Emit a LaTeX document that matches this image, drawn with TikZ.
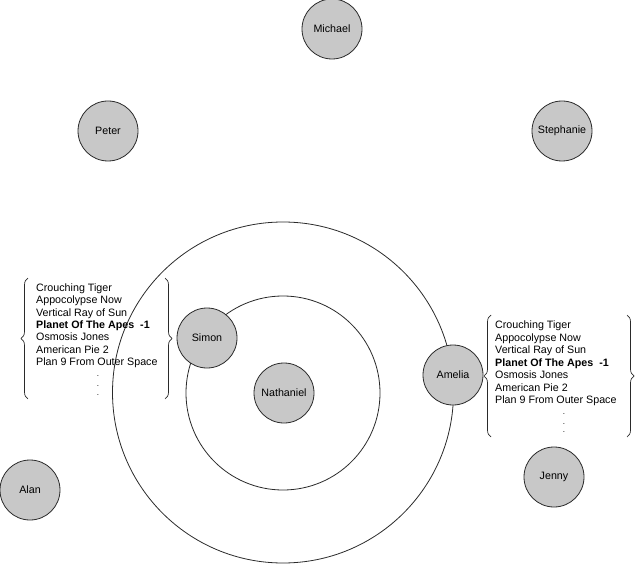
\documentclass[tikz,border=0pt]{standalone}
\usepackage{fontspec}
\setmainfont{Liberation Sans}
\usetikzlibrary{decorations.pathreplacing}
\definecolor{pfill}{HTML}{C8C8C8}
\definecolor{pline}{HTML}{2A2A2A}
\begin{document}
\begin{tikzpicture}[x=1pt,y=-1pt,
  person/.style={circle,draw=pline,fill=pfill,line width=0.8pt,minimum size=60pt,inner sep=0pt,font=\fontsize{10.7}{12}\selectfont},
  ring/.style={circle,draw=pline,line width=0.8pt,inner sep=0pt},
  lst/.style={inner sep=0pt,anchor=base west,font=\fontsize{10.7}{12}\selectfont},
  dotn/.style={inner sep=0pt,anchor=base,font=\fontsize{8}{8}\selectfont},
  bracel/.style={draw=pline,line width=0.7pt,decorate,decoration={brace,amplitude=7pt,aspect=0.5}}]
\useasboundingbox (0,0) rectangle (637,564);
% rings
\node[ring,minimum size=341pt] (outer) at (283,392.5) {};
\node[ring,minimum size=194pt] (inner) at (283,393) {};
% people
\node[person] (michael) at (332,29) {Michael};
\node[person] (peter) at (108,131) {Peter};
\node[person] (stephanie) at (562,131) {Stephanie};
\node[person] (simon) at (207,338) {Simon};
\node[person] (nathaniel) at (284,393) {Nathaniel};
\node[person] (amelia) at (453,375) {Amelia};
\node[person] (alan) at (30,490) {Alan};
\node[person] (jenny) at (554,477) {Jenny};
% left list
\foreach \t [count=\i] in {Crouching Tiger,Appocolypse Now,Vertical Ray of Sun,{\textbf{Planet Of The Apes\ \ -1}},Osmosis Jones,American Pie 2,Plan 9 From Outer Space}
  \node[lst] (L\i) at (36,{291.5+12.3*(\i-1)}) {\t};
\node[dotn] (Ld1) at (98,376) {.};
\node[dotn] (Ld2) at (98,386) {.};
\node[dotn] (Ld3) at (98,395) {.};
\coordinate (LbA) at (28,399);
\coordinate (LbB) at (28,278);
\coordinate (LbC) at (165,278);
\coordinate (LbD) at (165,399);
\draw[bracel] (LbA) -- (LbB);
\draw[bracel] (LbC) -- (LbD);
% right list
\foreach \t [count=\i] in {Crouching Tiger,Appocolypse Now,Vertical Ray of Sun,{\textbf{Planet Of The Apes\ \ -1}},Osmosis Jones,American Pie 2,Plan 9 From Outer Space}
  \node[lst] (R\i) at (495,{328.5+12.5*(\i-1)}) {\t};
\node[dotn] (Rd1) at (564,414) {.};
\node[dotn] (Rd2) at (564,424) {.};
\node[dotn] (Rd3) at (564,432) {.};
\coordinate (RbA) at (491,437);
\coordinate (RbB) at (491,315);
\coordinate (RbC) at (627,315);
\coordinate (RbD) at (627,437);
\draw[bracel] (RbA) -- (RbB);
\draw[bracel] (RbC) -- (RbD);
\end{tikzpicture}
\end{document}
